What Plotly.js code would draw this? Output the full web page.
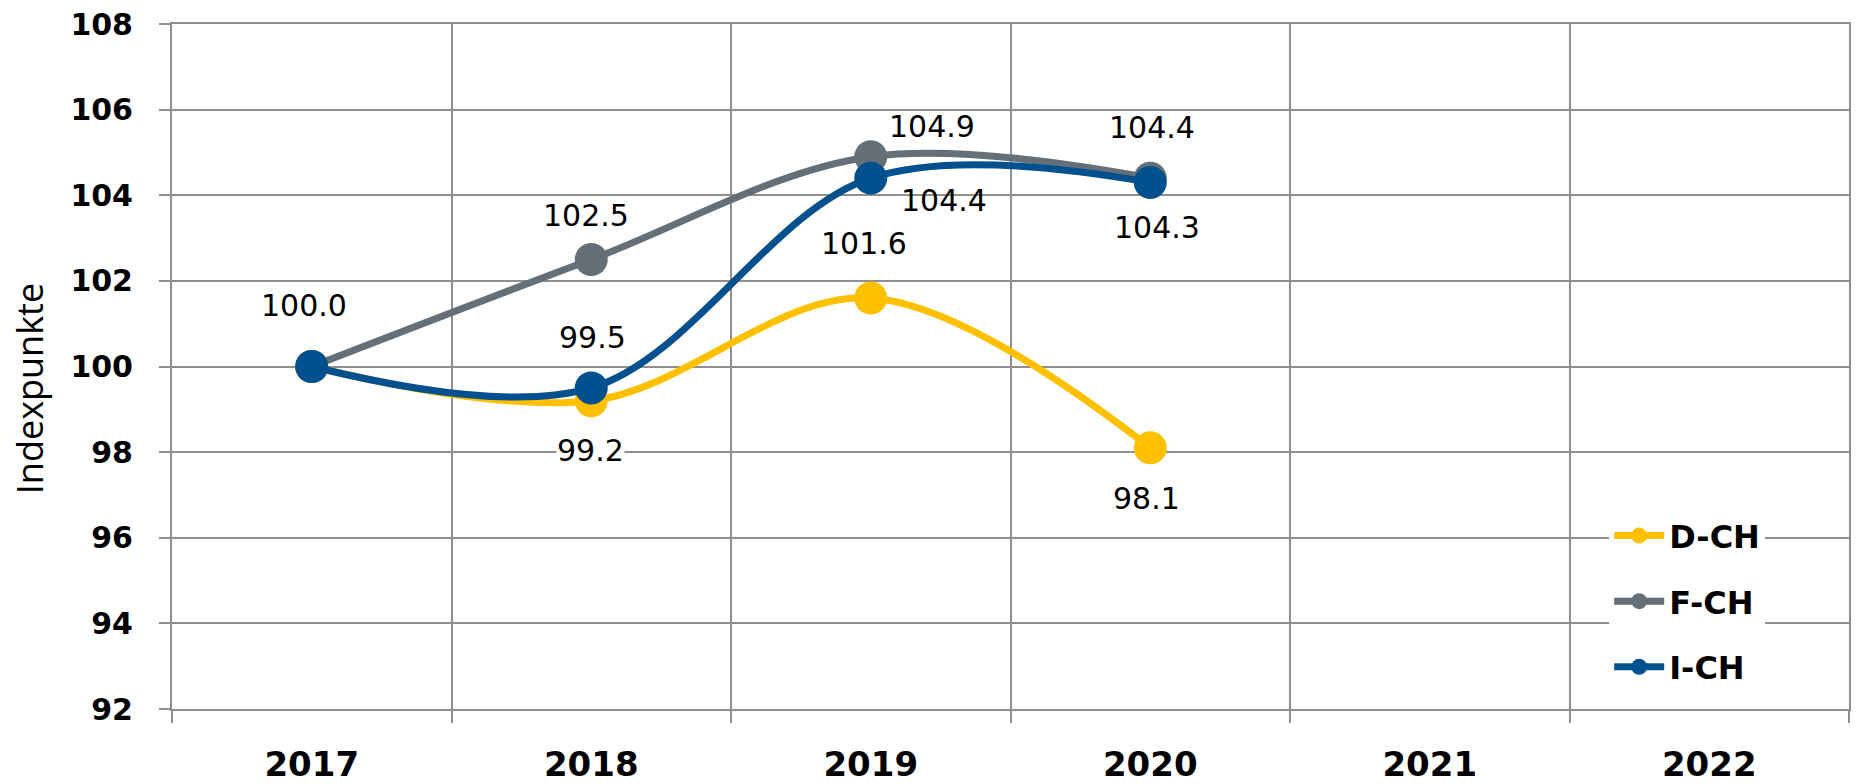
<!DOCTYPE html>
<html>
<head>
<meta charset="utf-8">
<script src="https://cdn.plot.ly/plotly-3.0.1.min.js"></script>
<style>
  html, body { margin: 0; padding: 0; background: #ffffff; }
  #chart { width: 1856px; height: 784px; }
</style>
</head>
<body>
<div id="chart"></div>
<script>
// ---- Data ----
const years = ["2017", "2018", "2019", "2020", "2021", "2022"];
const seriesNames = ["D-CH", "F-CH", "I-CH"];
const dch = [100.0, 99.2, 101.6, 98.1, null, null];
const fch = [100.0, 102.5, 104.9, 104.4, null, null];
const ich = [100.0, 99.5, 104.4, 104.3, null, null];
const yTickVals = [92, 94, 96, 98, 100, 102, 104, 106, 108];
const yTitle = "Indexpunkte";

// ---- Styles ----
const colors = ["#FFC000", "#646F78", "#03508E"];
const values = [dch, fch, ich];
// label offsets (px) per series per year: [dx, dy] (dy positive = up), null = no label
const labelOffsets = [
  [null, [-1, -50], [-7, 55], [-4, -51], null, null],
  [null, [-5, 44], [61, 30], [2, 51], null, null],
  [[-8, 61], [1, 50], [73, -22], [7, -45], null, null]
];
const labelBg = [
  [null, "#ffffff", null, null, null, null],
  [null, null, null, null, null, null],
  [null, null, null, null, null, null]
];

const gridColor = "#8f8f8f";

const traces = values.map((v, i) => ({
  type: "scatter",
  mode: "lines+markers",
  name: seriesNames[i],
  legendgroup: seriesNames[i],
  x: years,
  y: v,
  line: { color: colors[i], width: 7, shape: "spline", smoothing: 1 },
  marker: { color: colors[i], size: 33, line: { width: 0 } },
  connectgaps: false,
  hoverinfo: "skip"
}));

const annotations = [];
values.forEach((v, i) => {
  v.forEach((val, j) => {
    const off = labelOffsets[i][j];
    if (val === null || !off) return;
    annotations.push({
      x: j,              // category index of years[j] on the category axis
      y: val,
      xref: "x",
      yref: "y",
      text: val.toFixed(1),
      showarrow: false,
      xshift: off[0],
      yshift: off[1],
      xanchor: "center",
      yanchor: "middle",
      bgcolor: labelBg[i][j] || "rgba(0,0,0,0)",
      borderpad: 0,
      font: { family: "DejaVu Sans", size: 30, color: "#000000" }
    });
  });
});

// y-axis title, placed as a rotated annotation so it sits where the reference has it
annotations.push({
  xref: "paper",
  yref: "paper",
  x: -0.0848,
  y: 0.468,
  xanchor: "center",
  yanchor: "middle",
  textangle: -90,
  showarrow: false,
  text: yTitle,
  font: { family: "Open Sans", size: 36, color: "#000000" }
});

const layout = {
  width: 1856,
  height: 784,
  margin: { l: 172, r: 7, t: 24, b: 75, pad: 0 },
  paper_bgcolor: "#ffffff",
  plot_bgcolor: "#ffffff",
  showlegend: true,
  legend: {
    x: 0.857,
    y: 0.293,
    xanchor: "left",
    yanchor: "top",
    bgcolor: "#ffffff",
    borderwidth: 0,
    tracegroupgap: 21,
    itemwidth: 50,
    font: { family: "DejaVu Sans", size: 32, weight: 700, color: "#000000" }
  },
  xaxis: {
    type: "category",
    categoryorder: "array",
    categoryarray: years,
    range: [-0.5, 5.5],
    tickson: "boundaries",
    ticks: "outside",
    ticklen: 12,
    tickwidth: 2,
    tickcolor: gridColor,
    showgrid: true,
    gridcolor: gridColor,
    gridwidth: 2,
    showline: true,
    linecolor: gridColor,
    linewidth: 2,
    mirror: true,
    ticklabelstandoff: 24,
    tickfont: { family: "DejaVu Sans", size: 34, weight: 700, color: "#000000" },
    fixedrange: true
  },
  yaxis: {
    range: [92, 108],
    tickvals: yTickVals,
    ticktext: yTickVals.map(String),
    ticks: "outside",
    ticklen: 11,
    tickwidth: 2,
    tickcolor: gridColor,
    showgrid: true,
    gridcolor: gridColor,
    gridwidth: 2,
    zeroline: false,
    showline: true,
    linecolor: gridColor,
    linewidth: 2,
    mirror: true,
    ticklabelstandoff: 20,
    tickfont: { family: "DejaVu Sans", size: 30, weight: 700, color: "#000000" },
    automargin: false,
    fixedrange: true
  },
  annotations: annotations
};

Plotly.newPlot("chart", traces, layout, { displayModeBar: false, staticPlot: true });
</script>
</body>
</html>
